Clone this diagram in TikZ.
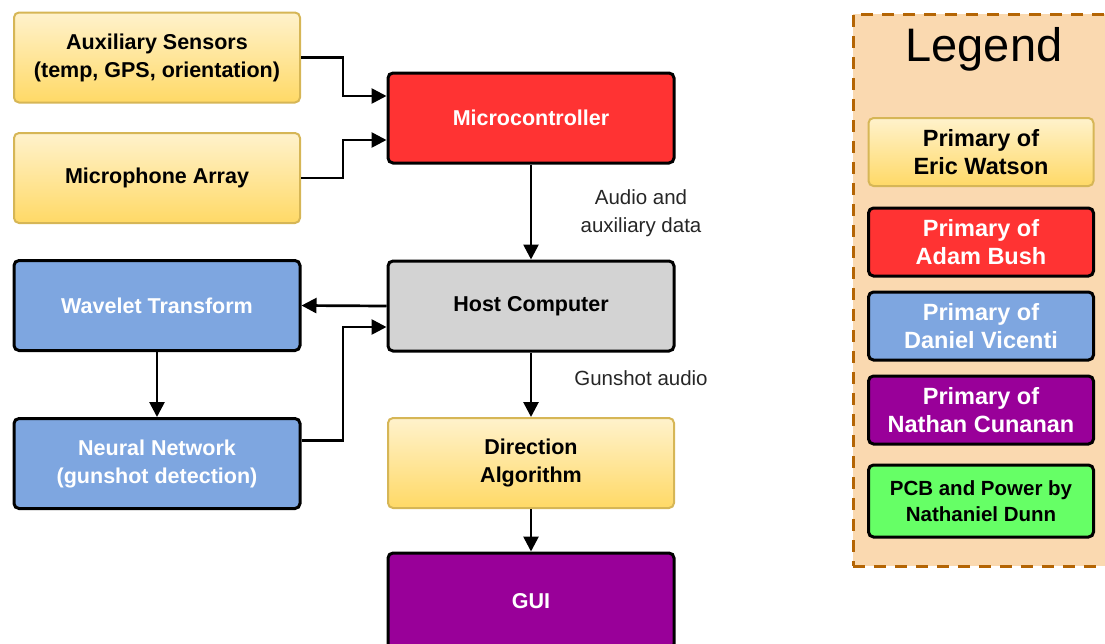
\documentclass[tikz,border=0pt]{standalone}
\usepackage{fontspec}
\setmainfont{Liberation Sans}
\usetikzlibrary{arrows.meta,positioning,calc}
\definecolor{ylwtop}{HTML}{FFF2CC}
\definecolor{ylwbot}{HTML}{FFD966}
\definecolor{ylwline}{HTML}{D6B656}
\definecolor{redfill}{HTML}{FF3333}
\definecolor{grayfill}{HTML}{D3D3D3}
\definecolor{bluefill}{HTML}{7EA6E0}
\definecolor{purplefill}{HTML}{990099}
\definecolor{greenfill}{HTML}{66FF66}
\definecolor{legfill}{HTML}{FAD9B0}
\definecolor{legline}{HTML}{B46504}
\tikzset{
  base/.style={rectangle, rounded corners=5pt, align=center, inner sep=0pt,
    minimum width=286pt, minimum height=90pt,
    font=\fontsize{21.5}{28}\selectfont\bfseries},
  ybox/.style={base, draw=ylwline, line width=2pt, top color=ylwtop, bottom color=ylwbot, text=black},
  dbox/.style={base, draw=black, line width=3pt, text=white},
  rbox/.style={dbox, fill=redfill},
  gbox/.style={dbox, fill=grayfill, text=black},
  bbox/.style={dbox, fill=bluefill},
  pbox/.style={dbox, fill=purplefill},
  grbox/.style={dbox, fill=greenfill, text=black},
  leg/.style={minimum width=225pt, minimum height=68pt, font=\fontsize{23.5}{28}\selectfont\bfseries},
  conn/.style={line width=2.7pt, -{Triangle[length=15pt,width=15pt]}},
  lbl/.style={font=\fontsize{20.5}{28}\selectfont, align=center, text=black!85}
}
\begin{document}
\begin{tikzpicture}[x=1pt,y=-1pt]
\useasboundingbox (0,0) rectangle (1105,643);
\clip (0,0) rectangle (1105,643);
% legend frame
\node[draw=legline, fill=legfill, dash pattern=on 12pt off 9pt, line width=3pt,
  rectangle, minimum width=280pt, minimum height=552pt, inner sep=0pt] (legframe) at (993,290) {};
\node[font=\fontsize{47}{50}\selectfont] (legtitle) at (984,49) {Legend};
\node[ybox, leg] (l1) at (981,152) {Primary of\\Eric Watson};
\node[rbox, leg] (l2) at (981,242) {Primary of\\Adam Bush};
\node[bbox, leg] (l3) at (981,326) {Primary of\\Daniel Vicenti};
\node[pbox, leg] (l4) at (981,410) {Primary of\\Nathan Cunanan};
\node[grbox, leg, minimum height=72pt, font=\fontsize{20.5}{26}\selectfont\bfseries] (l5) at (981,501) {PCB and Power by\\Nathaniel Dunn};
% main boxes
\node[ybox] (aux) at (157,57.5) {Auxiliary Sensors\\(temp, GPS, orientation)};
\node[ybox] (mic) at (157,178) {Microphone Array};
\node[rbox] (micro) at (531,118) {Microcontroller};
\node[gbox] (host) at (531,306) {Host Computer};
\node[bbox] (wave) at (157,305.5) {Wavelet Transform};
\node[bbox] (nn) at (157,463.5) {Neural Network\\(gunshot detection)};
\node[ybox] (dir) at (531,463) {Direction\\Algorithm};
\node[pbox, minimum height=96pt] (gui) at (531,601) {GUI};
% connectors
\draw[conn] (aux.east) -- (343,57.5) |- ([yshift=22pt]micro.west);
\draw[conn] (mic.east) -- (343,178) |- ([yshift=-22pt]micro.west);
\draw[conn] (micro.south) -- (host.north);
\draw[conn] (host.west) -- (wave.east);
\draw[conn] (wave.south) -- (nn.north);
\draw[conn] ([yshift=23pt]nn.east) -- (343,440.5) |- ([yshift=-21pt]host.west);
\draw[conn] (host.south) -- (dir.north);
\draw[conn] (dir.south) -- (gui.north);
% labels
\node[lbl] (lab1) at (641,213) {Audio and\\auxiliary data};
\node[lbl] (lab2) at (641,378) {Gunshot audio};
\end{tikzpicture}
\end{document}
